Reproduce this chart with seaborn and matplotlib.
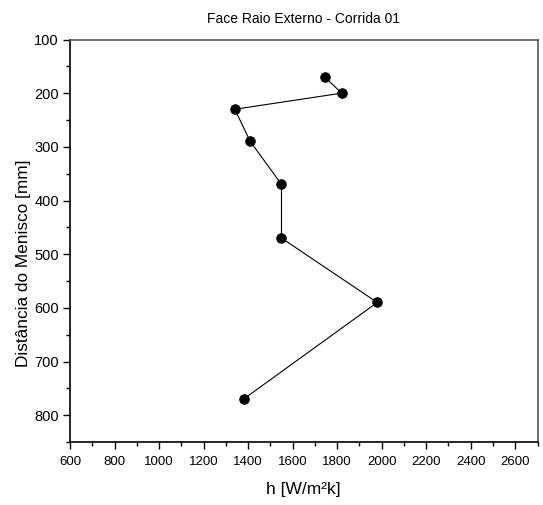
import matplotlib
matplotlib.use("Agg")
import matplotlib.pyplot as plt
import seaborn as sns
import pandas as pd
from matplotlib.ticker import MultipleLocator

h_values = [1745, 1820, 1340, 1410, 1550, 1550, 1980, 1380]
distance = [170, 200, 230, 290, 370, 470, 590, 770]
x_ticks = [600, 800, 1000, 1200, 1400, 1600, 1800, 2000, 2200, 2400, 2600]
y_ticks = [100, 200, 300, 400, 500, 600, 700, 800]

df = pd.DataFrame({"h": h_values, "d": distance})

sns.set_style("ticks", {"text.color": "black", "axes.labelcolor": "black",
                        "xtick.color": "black", "ytick.color": "black"})
plt.rcParams['font.family'] = ['Liberation Sans', 'DejaVu Sans']

fig = plt.figure(figsize=(5.43, 5.05), dpi=100)
ax = fig.add_axes([70/543, 1-442/505, (537.5-70)/543, (442-39.5)/505])

sns.lineplot(data=df, x="h", y="d", sort=False, estimator=None, ax=ax,
             color="black", linewidth=0.8, marker="o", markersize=6.8,
             markeredgecolor="black", markerfacecolor="black")

ax.set_xlim(600, 2700)
ax.set_ylim(850, 100)
ax.set_xticks(x_ticks)
ax.set_yticks(y_ticks)
ax.xaxis.set_minor_locator(MultipleLocator(100))
ax.yaxis.set_minor_locator(MultipleLocator(50))
ax.tick_params(axis="both", which="major", length=5, width=1, direction="out", pad=3,
               colors="black")
ax.tick_params(axis="both", which="minor", length=3, width=1, direction="out", colors="black")
ax.tick_params(axis="x", labelsize=9.5, pad=5)
ax.tick_params(axis="y", labelsize=10.5, pad=3)

for s in ["left", "bottom"]:
    ax.spines[s].set_color("black")
    ax.spines[s].set_linewidth(1.2)
for s in ["top", "right"]:
    ax.spines[s].set_visible(True)
    ax.spines[s].set_color("#555555")
    ax.spines[s].set_linewidth(1.2)

ax.set_xlabel("h [W/m²k]", fontsize=12.5, labelpad=10, color="black")
ax.set_ylabel("Distância do Menisco [mm]", fontsize=12.4, labelpad=3, color="black")
ax.yaxis.set_label_coords(-0.083, 0.444)
ax.set_title("Face Raio Externo - Corrida 01", fontsize=10, pad=12, color="black")

fig.savefig("out.png", dpi=100)
